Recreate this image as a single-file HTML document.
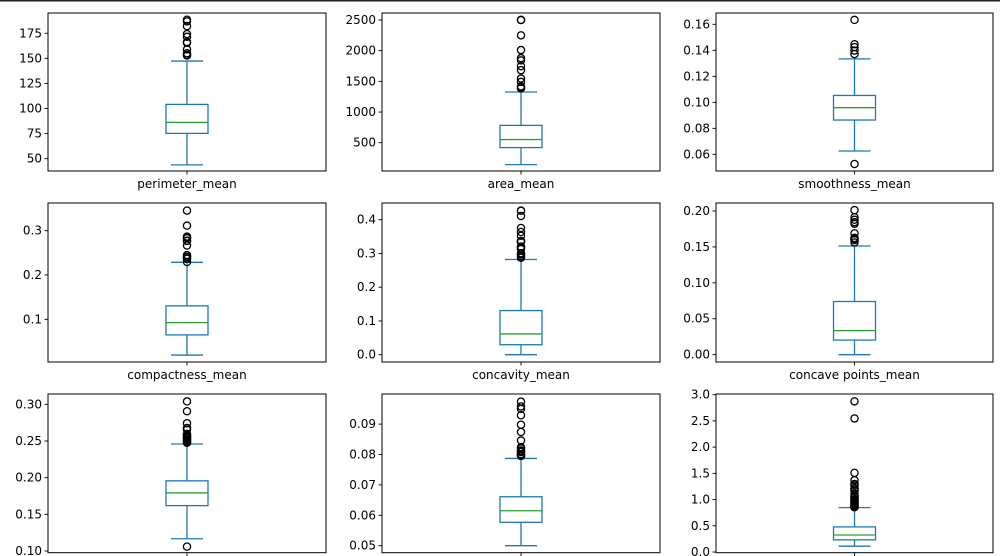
<!DOCTYPE html>
<html><head><meta charset="utf-8">
<style>
html,body{margin:0;padding:0;background:#fff;}
svg{display:block;font-family:"DejaVu Sans","Liberation Sans",sans-serif;}
</style></head>
<body>
<svg id="chart" width="1000" height="556" viewBox="0 0 1000 556" xmlns="http://www.w3.org/2000/svg">
<rect x="0" y="0" width="1000" height="1.5" fill="#222"/>
</svg>
<script>
const names = ["perimeter_mean","area_mean","smoothness_mean","compactness_mean","concavity_mean","concave points_mean","symmetry_mean","fractal_dimension_mean","radius_se"];
const q1s = [75.2, 420.3, 0.0864, 0.0649, 0.0296, 0.0203, 0.1619, 0.0577, 0.2324];
const medians = [86.2, 551.1, 0.0959, 0.0926, 0.0615, 0.0335, 0.1792, 0.0615, 0.3242];
const q3s = [104.1, 782.7, 0.1053, 0.1304, 0.1307, 0.0740, 0.1957, 0.0661, 0.4789];
const whLo = [43.8, 143.5, 0.0626, 0.0194, 0.0, 0.0, 0.1167, 0.0500, 0.1115];
const whHi = [147.3, 1326, 0.1334, 0.2287, 0.2821, 0.1513, 0.2459, 0.0787, 0.8460];
const outliers0 = [152.8,153.5,155.1,158.9,165.5,166.2,171.5,174.2,182.1,186.9,188.5];
const outliers1 = [1386,1404,1419,1491,1546,1682,1747,1841,1878,2010,2250,2499,2501];
const outliers2 = [0.0526,0.1371,0.1398,0.1425,0.1447,0.1634];
const outliers3 = [0.2293,0.2364,0.2396,0.2413,0.245,0.2665,0.2768,0.2776,0.2832,0.2839,0.2867,0.3114,0.3454];
const outliers4 = [0.2871,0.2914,0.2965,0.3001,0.3003,0.3130,0.3189,0.3201,0.3339,0.3354,0.3368,0.3523,0.3635,0.3754,0.4108,0.4264,0.4268];
const outliers5 = [0.1562,0.1595,0.1604,0.1620,0.1625,0.1689,0.1823,0.1845,0.1878,0.1913,0.2012];
const outliers6 = [0.106,0.2477,0.2481,0.2495,0.2506,0.2512,0.2521,0.2538,0.2548,0.2556,0.2569,0.2587,0.2597,0.2655,0.2678,0.2743,0.2906,0.304];
const outliers7 = [0.0795,0.0797,0.0800,0.0801,0.0808,0.0810,0.0813,0.0820,0.0824,0.0846,0.0874,0.0898,0.0929,0.0950,0.0958,0.0974];
const outliers8 = [0.8529,0.8561,0.8705,0.8811,0.8973,0.9029,0.9289,0.9317,0.9553,0.9622,0.9811,0.9915,1.0,1.009,1.046,1.058,1.07,1.111,1.167,1.178,1.207,1.214,1.215,1.264,1.292,1.296,1.37,1.509,2.547,2.873];
const outlierSets = [outliers0,outliers1,outliers2,outliers3,outliers4,outliers5,outliers6,outliers7,outliers8];
const ticks0 = [50,75,100,125,150,175];
const ticks1 = [500,1000,1500,2000,2500];
const ticks2 = [0.06,0.08,0.10,0.12,0.14,0.16];
const ticks3 = [0.1,0.2,0.3];
const ticks4 = [0.0,0.1,0.2,0.3,0.4];
const ticks5 = [0.00,0.05,0.10,0.15,0.20];
const ticks6 = [0.10,0.15,0.20,0.25,0.30];
const ticks7 = [0.05,0.06,0.07,0.08,0.09];
const ticks8 = [0.0,0.5,1.0,1.5,2.0,2.5,3.0];
const tickSets = [ticks0,ticks1,ticks2,ticks3,ticks4,ticks5,ticks6,ticks7,ticks8];
const tickDecimals = [0,0,2,1,1,2,2,2,1];
const domains = [[37.7,195.2],[39,2614],[0.0472,0.1687],[0.0037,0.3625],[-0.0216,0.4494],[-0.0102,0.2111],[0.0977,0.3141],[0.0477,0.0999],[-0.013,3.013]];

const NS = "http://www.w3.org/2000/svg";
const svg = document.getElementById("chart");
const colX = [[48,326],[382,660],[716,993]];
const rowY = [[13,171],[203,362],[394,552.7]];
function mk(tag, attrs, parent){const e=document.createElementNS(NS,tag);for(const k in attrs)e.setAttribute(k,attrs[k]);(parent||svg).appendChild(e);return e;}

for(let i=0;i<9;i++){
  const c=i%3, r=Math.floor(i/3);
  const [x0,x1]=colX[c], [yT,yB]=rowY[r];
  const [d0,d1]=domains[i];
  const y=v=>yB-(v-d0)/(d1-d0)*(yB-yT);
  const cx=(x0+x1)/2;
  const g=mk("g",{});
  
  
  const blue="#1f77b4";
  const wl=mk("line",{x1:cx,x2:cx,y1:y(q1s[i]),y2:y(whLo[i]),stroke:blue,"stroke-width":1.3},g);
  
  
  const wh=mk("line",{x1:cx,x2:cx,y1:y(q3s[i]),y2:y(whHi[i]),stroke:blue,"stroke-width":1.3},g);
  
  
  const cl=mk("line",{x1:cx-16,x2:cx+16,y1:y(whLo[i]),y2:y(whLo[i]),stroke:blue,"stroke-width":1.3},g);
  
  
  const ch=mk("line",{x1:cx-16,x2:cx+16,y1:y(whHi[i]),y2:y(whHi[i]),stroke:blue,"stroke-width":1.3},g);
  
  
  const bx=mk("rect",{x:cx-21,y:y(q3s[i]),width:42,height:y(q1s[i])-y(q3s[i]),fill:"none",stroke:blue,"stroke-width":1.3},g);
  
  
  const md=mk("line",{x1:cx-21,x2:cx+21,y1:y(medians[i]),y2:y(medians[i]),stroke:"#2ca02c","stroke-width":1.3},g);
  
  
  for(const v of outlierSets[i]){
    const o=mk("circle",{cx:cx,cy:y(v),r:3.6,fill:"none",stroke:"#000","stroke-width":1.3},g);
    
    
  }
  const fr=mk("rect",{x:x0,y:yT,width:x1-x0,height:yB-yT,fill:"none",stroke:"#000","stroke-width":1},g);
  
  
  for(const t of tickSets[i]){
    const ty=y(t);
    const tl=mk("line",{x1:x0-3.5,x2:x0,y1:ty,y2:ty,stroke:"#000","stroke-width":0.9},g);
    
    
    const tx=mk("text",{x:x0-6,y:ty+4,"text-anchor":"end","font-size":"12px",fill:"#000"},g);
    tx.textContent=t.toFixed(tickDecimals[i]);
    
    
  }
  const xt=mk("line",{x1:cx,x2:cx,y1:yB,y2:yB+3.5,stroke:"#000","stroke-width":0.9},g);
  
  
  const xl=mk("text",{x:cx,y:yB+17,"text-anchor":"middle","font-size":"12px",fill:"#000"},g);
  xl.textContent=names[i];
  
  
}
</script>
</body></html>
